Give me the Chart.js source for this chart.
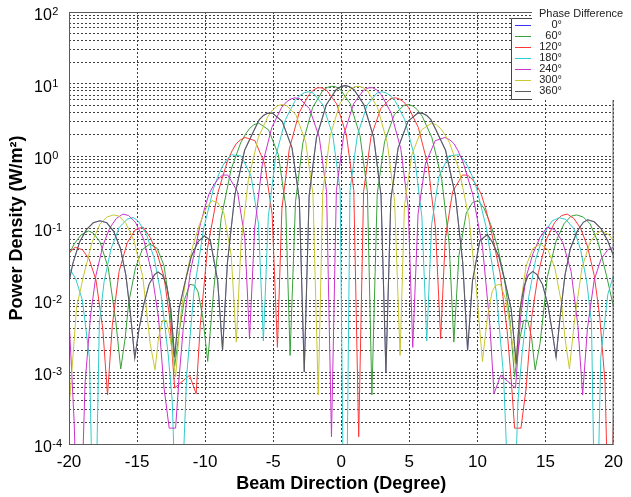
<!DOCTYPE html>
<html>
<head>
<meta charset="utf-8">
<script src="https://cdn.jsdelivr.net/npm/chart.js@4.4.1/dist/chart.umd.min.js"></script>
<style>
  html, body { margin: 0; padding: 0; background: #fff; }
  canvas { display: block; }
</style>
</head>
<body>
<canvas id="myChart" width="631" height="497"></canvas>
<script>
// legend entries and colours (MATLAB style)
const phaseLabels = ['0\u00b0', '60\u00b0', '120\u00b0', '180\u00b0', '240\u00b0', '300\u00b0', '360\u00b0'];
const lineColors = ['#3535ff', '#3aa23a', '#ff3838', '#34cccc', '#cc34cc', '#c8c834', '#5c5c5c'];
const xTicks = [-20, -15, -10, -5, 0, 5, 10, 15, 20];
const yPowers = [-4, -3, -2, -1, 0, 1, 2];

// [beam direction (degree), power density (W/m^2)]
const deg360 = [
  [-20.0, 0.018], [-19.72, 0.032], [-19.22, 0.064], [-18.72, 0.095], [-18.22, 0.118], [-17.73, 0.126],
  [-17.22, 0.118], [-16.72, 0.090], [-16.22, 0.052], [-15.82, 0.022], [-15.47, 0.006], [-15.17, 0.00155],
  [-14.87, 0.0038], [-14.52, 0.0085], [-14.12, 0.0165], [-13.72, 0.0225], [-13.46, 0.0245], [-13.12, 0.022],
  [-12.82, 0.0155], [-12.52, 0.0075], [-12.24, 0.0016], [-11.92, 0.0075], [-11.52, 0.0162], [-11.02, 0.040],
  [-10.52, 0.0645], [-10.05, 0.078], [-9.62, 0.0667], [-9.08, 0.0185], [-8.72, 0.002], [-8.36, 0.0335],
  [-7.82, 0.285], [-7.1, 1.20], [-6.38, 2.33], [-6.02, 3.20], [-5.72, 3.65], [-5.42, 3.91], [-5.06, 3.95],
  [-4.34, 3.04], [-3.62, 1.30], [-3.08, 0.248], [-2.72, 0.001], [-2.36, 0.283], [-1.82, 1.81], [-1.1, 5.15],
  [-0.38, 8.32], [-0.02, 9.23], [0.28, 9.5], [0.58, 9.23], [0.94, 8.32], [1.66, 5.15], [2.38, 1.81],
  [2.92, 0.283], [3.28, 0.001], [3.64, 0.248], [4.18, 1.30], [4.9, 3.04], [5.62, 3.95], [5.98, 3.91],
  [6.28, 3.65], [6.58, 3.20], [6.94, 2.33], [7.66, 1.20], [8.38, 0.285], [8.92, 0.0335], [9.28, 0.002],
  [9.64, 0.0185], [10.18, 0.0667], [10.73, 0.081], [11.08, 0.0645], [11.58, 0.040], [12.08, 0.0162],
  [12.48, 0.0075], [12.85, 0.0013], [13.13, 0.0075], [13.43, 0.0155], [13.73, 0.022], [14.07, 0.025],
  [14.38, 0.0225], [14.78, 0.0165], [15.18, 0.0085], [15.48, 0.0038], [15.78, 0.0016], [16.08, 0.006],
  [16.43, 0.022], [16.83, 0.052], [17.33, 0.09], [17.78, 0.12], [18.1, 0.13], [18.58, 0.122],
  [19.08, 0.098], [19.58, 0.066], [20.0, 0.041]
];
// 0 and 360 degrees give the same pattern, the blue line sits under the grey one
const deg0 = deg360;

const deg60 = [
  [-20.0, 0.043], [-19.62, 0.060], [-19.12, 0.080], [-18.58, 0.091], [-18.22, 0.085], [-17.72, 0.064],
  [-17.12, 0.028], [-16.56, 0.005], [-16.2, 0.0011], [-15.87, 0.003], [-15.62, 0.009], [-15.12, 0.028],
  [-14.62, 0.050], [-14.07, 0.060], [-13.52, 0.052], [-13.02, 0.030], [-12.62, 0.009], [-12.24, 0.0012],
  [-11.87, 0.004], [-11.52, 0.0101], [-11.12, 0.0165], [-10.78, 0.016], [-10.52, 0.013], [-10.17, 0.0057],
  [-9.81, 0.0014], [-9.36, 0.0144], [-8.82, 0.137], [-8.1, 0.646], [-7.38, 1.54], [-7.02, 2.03],
  [-6.72, 2.43], [-6.42, 2.72], [-6.06, 2.86], [-5.34, 2.31], [-4.62, 1.04], [-4.08, 0.201], [-3.76, 0.0017],
  [-3.36, 0.234], [-2.82, 1.53], [-2.1, 4.73], [-1.38, 8.00], [-1.02, 8.97], [-0.72, 9.29], [-0.42, 9.16],
  [-0.06, 8.37], [0.66, 5.32], [1.38, 1.91], [1.92, 0.318], [2.25, 0.00048], [2.64, 0.297], [3.18, 1.58],
  [3.9, 3.77], [4.62, 5.08], [4.98, 5.17], [5.28, 4.92], [5.58, 4.41], [5.94, 3.59], [6.66, 1.79],
  [7.38, 0.475], [7.92, 0.0619], [8.27, 0.0026], [8.64, 0.041], [9.18, 0.161], [9.63, 0.225], [10.05, 0.240],
  [10.48, 0.189], [10.98, 0.111], [11.48, 0.055], [11.98, 0.020], [12.38, 0.0055], [12.73, 0.00086],
  [13.13, 0.003], [13.4, 0.0052], [13.7, 0.0052], [13.98, 0.003], [14.24, 0.00107], [14.6, 0.0025],
  [15.14, 0.021], [15.78, 0.066], [16.38, 0.116], [16.88, 0.146], [17.28, 0.152], [17.78, 0.142],
  [18.28, 0.114], [18.88, 0.062], [19.48, 0.022], [20.0, 0.008]
];

const deg120 = [
  [-20.0, 0.045], [-19.55, 0.054], [-19.02, 0.050], [-18.52, 0.037], [-18.02, 0.019], [-17.52, 0.004],
  [-17.17, 0.00048], [-16.82, 0.0044], [-16.32, 0.025], [-15.72, 0.0625], [-15.12, 0.095], [-14.56, 0.103],
  [-14.02, 0.073], [-13.52, 0.044], [-13.02, 0.021], [-12.62, 0.006], [-12.24, 0.0006], [-11.15, 0.0009],
  [-10.66, 0.0005], [-10.36, 0.0044], [-9.82, 0.0532], [-9.1, 0.293], [-8.38, 0.830], [-8.02, 1.18],
  [-7.72, 1.48], [-7.42, 1.67], [-7.06, 1.81], [-6.34, 1.63], [-5.62, 0.776], [-5.08, 0.156], [-4.69, 0.0022],
  [-4.36, 0.188], [-3.82, 1.24], [-3.1, 3.97], [-2.38, 7.11], [-2.02, 8.31], [-1.72, 8.89], [-1.42, 8.81],
  [-1.06, 8.13], [-0.34, 5.29], [0.38, 1.96], [0.92, 0.330], [1.28, 0.000126], [1.64, 0.322], [2.18, 1.84],
  [2.9, 4.55], [3.62, 6.28], [3.98, 6.43], [4.28, 6.17], [4.58, 5.65], [4.94, 4.73], [5.66, 2.49],
  [6.38, 0.725], [6.92, 0.100], [7.3, 0.0029], [7.64, 0.071], [8.18, 0.320], [8.9, 0.544], [9.28, 0.543],
  [9.62, 0.476], [9.98, 0.380], [10.28, 0.295], [10.58, 0.193], [10.94, 0.107], [11.66, 0.0239],
  [12.18, 0.0038], [12.48, 0.0008], [12.73, 0.000166], [13.2, 0.000166], [13.58, 0.0006], [13.98, 0.0056],
  [14.48, 0.024], [15.08, 0.070], [15.68, 0.120], [16.18, 0.149], [16.6, 0.156], [17.08, 0.136],
  [17.58, 0.099], [18.08, 0.056], [18.58, 0.022], [18.98, 0.006], [19.38, 0.0007], [19.73, 0.000001],
  [20.0, 0.00025]
];

const deg180 = [
  [-20.0, 0.028], [-19.52, 0.020], [-19.02, 0.010], [-18.5, 0.0016], [-18.14, 0.000001], [-17.77, 0.0048],
  [-17.42, 0.018], [-16.92, 0.051], [-16.32, 0.101], [-15.72, 0.133], [-15.29, 0.140], [-14.92, 0.125],
  [-14.32, 0.083], [-13.72, 0.0366], [-13.22, 0.0113], [-12.72, 0.0018], [-12.42, 0.0004], [-11.96, 0.000001],
  [-11.36, 0.00088], [-10.82, 0.0132], [-10.1, 0.100], [-9.38, 0.357], [-9.02, 0.544], [-8.72, 0.724],
  [-8.42, 0.888], [-8.06, 1.04], [-7.34, 1.00], [-6.62, 0.523], [-6.08, 0.113], [-5.72, 0.0027],
  [-5.36, 0.143], [-4.82, 0.985], [-4.1, 3.21], [-3.38, 5.89], [-3.02, 6.97], [-2.72, 7.55], [-2.42, 7.79],
  [-2.06, 7.50], [-1.34, 5.10], [-0.62, 1.92], [-0.08, 0.332], [0.28, 0.0000001], [0.64, 0.332],
  [1.18, 1.92], [1.9, 5.10], [2.62, 7.50], [2.98, 7.79], [3.28, 7.55], [3.58, 6.97], [3.94, 5.89],
  [4.66, 3.21], [5.38, 0.985], [5.92, 0.143], [6.28, 0.0027], [6.64, 0.113], [7.18, 0.523], [7.9, 1.00],
  [8.62, 1.04], [8.98, 0.888], [9.28, 0.724], [9.58, 0.544], [9.94, 0.357], [10.66, 0.100], [11.38, 0.0132],
  [11.92, 0.00088], [12.55, 0.000001], [12.98, 0.0004], [13.28, 0.0018], [13.78, 0.0113], [14.28, 0.0366],
  [14.88, 0.083], [15.48, 0.125], [16.0, 0.139], [16.48, 0.132], [17.08, 0.098], [17.58, 0.050],
  [18.03, 0.018], [18.38, 0.0048], [18.7, 0.000001], [19.06, 0.0016], [19.58, 0.012], [20.0, 0.022]
];

const deg240 = [
  [-20.0, 0.0056], [-19.62, 0.0002], [-19.27, 0.000001], [-18.82, 0.0007], [-18.42, 0.006], [-18.02, 0.022],
  [-17.52, 0.056], [-17.02, 0.099], [-16.52, 0.136], [-16.04, 0.156], [-15.62, 0.149], [-15.12, 0.120],
  [-14.52, 0.070], [-13.92, 0.024], [-13.42, 0.0056], [-13.02, 0.0006], [-12.64, 0.000166], [-12.17, 0.000166],
  [-11.92, 0.0008], [-11.62, 0.0038], [-11.1, 0.0239], [-10.38, 0.107], [-10.02, 0.193], [-9.72, 0.295],
  [-9.42, 0.380], [-9.06, 0.476], [-8.72, 0.543], [-8.34, 0.544], [-7.62, 0.320], [-7.08, 0.071],
  [-6.74, 0.0029], [-6.36, 0.100], [-5.82, 0.725], [-5.1, 2.49], [-4.38, 4.73], [-4.02, 5.65], [-3.72, 6.17],
  [-3.42, 6.43], [-3.06, 6.28], [-2.34, 4.55], [-1.62, 1.84], [-1.08, 0.322], [-0.72, 0.000126],
  [-0.36, 0.330], [0.18, 1.96], [0.9, 5.29], [1.62, 8.13], [1.98, 8.81], [2.28, 8.89], [2.58, 8.31],
  [2.94, 7.11], [3.66, 3.97], [4.38, 1.24], [4.92, 0.188], [5.25, 0.0022], [5.64, 0.156], [6.18, 0.776],
  [6.9, 1.63], [7.62, 1.81], [7.98, 1.67], [8.28, 1.48], [8.58, 1.18], [8.94, 0.830], [9.66, 0.293],
  [10.38, 0.0532], [10.92, 0.0044], [11.22, 0.0005], [11.71, 0.0009], [12.8, 0.0006], [13.18, 0.006],
  [13.58, 0.021], [14.08, 0.044], [14.58, 0.073], [15.12, 0.103], [15.68, 0.095], [16.28, 0.0625],
  [16.88, 0.025], [17.38, 0.0044], [17.73, 0.00048], [18.08, 0.004], [18.58, 0.019], [19.08, 0.037],
  [19.58, 0.050], [20.0, 0.054]
];

const deg300 = [
  [-20.0, 0.0003], [-19.44, 0.008], [-18.92, 0.022], [-18.32, 0.062], [-17.72, 0.114], [-17.22, 0.142],
  [-16.72, 0.152], [-16.32, 0.146], [-15.82, 0.116], [-15.22, 0.066], [-14.58, 0.021], [-14.04, 0.0025],
  [-13.68, 0.00107], [-13.42, 0.003], [-13.14, 0.0052], [-12.84, 0.0052], [-12.57, 0.003], [-12.17, 0.00086],
  [-11.82, 0.0055], [-11.42, 0.020], [-10.92, 0.055], [-10.42, 0.111], [-9.92, 0.189], [-9.49, 0.240],
  [-9.07, 0.225], [-8.62, 0.161], [-8.08, 0.041], [-7.71, 0.0026], [-7.36, 0.0619], [-6.82, 0.475],
  [-6.1, 1.79], [-5.38, 3.59], [-5.02, 4.41], [-4.72, 4.92], [-4.42, 5.17], [-4.06, 5.08], [-3.34, 3.77],
  [-2.62, 1.58], [-2.08, 0.297], [-1.69, 0.00048], [-1.36, 0.318], [-0.82, 1.91], [-0.1, 5.32], [0.62, 8.37],
  [0.98, 9.16], [1.28, 9.29], [1.58, 8.97], [1.94, 8.00], [2.66, 4.73], [3.38, 1.53], [3.92, 0.234],
  [4.32, 0.0017], [4.64, 0.201], [5.18, 1.04], [5.9, 2.31], [6.62, 2.86], [6.98, 2.72], [7.28, 2.43],
  [7.58, 2.03], [7.94, 1.54], [8.66, 0.646], [9.38, 0.137], [9.92, 0.0144], [10.37, 0.0014], [10.73, 0.0057],
  [11.08, 0.013], [11.34, 0.016], [11.68, 0.0165], [12.08, 0.0101], [12.43, 0.004], [12.8, 0.0012],
  [13.18, 0.009], [13.58, 0.030], [14.08, 0.052], [14.63, 0.060], [15.18, 0.050], [15.68, 0.028],
  [16.18, 0.009], [16.43, 0.003], [16.76, 0.0011], [17.12, 0.005], [17.68, 0.028], [18.28, 0.064],
  [18.78, 0.085], [19.14, 0.091], [19.68, 0.080], [20.0, 0.066]
];

const seriesData = [deg0, deg60, deg120, deg180, deg240, deg300, deg360];

const datasets = seriesData.map((pts, i) => ({
  label: phaseLabels[i],
  data: pts.map(p => ({ x: p[0], y: p[1] })),
  borderColor: lineColors[i],
  backgroundColor: lineColors[i],
  // the 0 degree line is hidden under the 360 degree one in the original
  borderWidth: i === 0 ? 0.5 : (i === 6 ? 1.1 : 1),
  pointRadius: 0,
  tension: 0,
  fill: false,
  // later phases are drawn on top, like the original plot
  order: seriesData.length - i
}));

const FONT = '"Liberation Sans", Arial, sans-serif';

// frame, 10^n labels and the legend box
const extras = {
  id: 'extras',
  afterDraw(chart) {
    const ctx = chart.ctx;
    const a = chart.chartArea;
    const y = chart.scales.y;
    ctx.save();

    // axes box
    ctx.strokeStyle = '#5a5a5a';
    ctx.lineWidth = 1;
    ctx.strokeRect(a.left + 0.5, a.top + 0.5, a.right - a.left - 1, a.bottom - a.top);

    // y tick labels as 10 with a raised exponent
    ctx.fillStyle = '#000';
    ctx.textAlign = 'left';
    ctx.textBaseline = 'alphabetic';
    yPowers.forEach(p => {
      const py = y.getPixelForValue(Math.pow(10, p));
      ctx.font = '16px ' + FONT;
      ctx.fillText('10', 34, py + 8);
      const w = ctx.measureText('10').width;
      ctx.font = '11px ' + FONT;
      ctx.fillText(String(p), 34 + w + 0.5, py + 2.5);
    });

    // legend
    ctx.fillStyle = '#fff';
    ctx.fillRect(532, 0, 99, 100);
    ctx.fillRect(512, 19, 119, 80);
    ctx.strokeStyle = '#444';
    ctx.beginPath();
    ctx.moveTo(532, 18.5);
    ctx.lineTo(511.5, 18.5);
    ctx.lineTo(511.5, 99.5);
    ctx.lineTo(532, 99.5);
    ctx.stroke();

    ctx.fillStyle = '#222';
    ctx.font = '11px ' + FONT;
    ctx.textBaseline = 'middle';
    ctx.textAlign = 'left';
    ctx.fillText('Phase Difference', 539, 13.5);

    ctx.textAlign = 'right';
    phaseLabels.forEach((lab, i) => {
      const ry = 24.5 + i * 11.1;
      ctx.strokeStyle = lineColors[i];
      ctx.beginPath();
      ctx.moveTo(515, Math.round(ry) + 0.5);
      ctx.lineTo(531, Math.round(ry) + 0.5);
      ctx.stroke();
      ctx.fillText(lab, 562, ry);
    });
    ctx.restore();
  }
};

const ctx = document.getElementById('myChart').getContext('2d');
new Chart(ctx, {
  type: 'line',
  data: { datasets: datasets },
  options: {
    responsive: false,
    animation: false,
    parsing: false,
    layout: { autoPadding: false, padding: { left: 0, right: 15, top: 12, bottom: 0 } },
    plugins: { legend: { display: false }, tooltip: { enabled: false } },
    scales: {
      x: {
        type: 'linear',
        min: -20,
        max: 20,
        afterBuildTicks: scale => { scale.ticks = xTicks.map(v => ({ value: v })); },
        afterFit: scale => { scale.height = 53; },
        grid: { color: '#404040', lineWidth: 1, drawTicks: false },
        border: { display: false, dash: [2, 2] },
        ticks: { color: '#000', padding: 8, font: { family: FONT, size: 17 } },
        title: {
          display: true,
          text: 'Beam Direction (Degree)',
          color: '#000',
          font: { family: FONT, size: 18, weight: 'bold' },
          padding: { top: 0, bottom: 2 }
        }
      },
      y: {
        type: 'logarithmic',
        min: 1e-4,
        max: 100,
        afterBuildTicks: scale => {
          const t = [];
          yPowers.forEach(p => {
            for (let m = 1; m < 10; m++) {
              const v = m * Math.pow(10, p);
              if (v <= 100.0001) t.push({ value: v });
            }
          });
          scale.ticks = t;
        },
        afterFit: scale => { scale.width = 69; },
        grid: { color: '#404040', lineWidth: 1, drawTicks: false },
        border: { display: false, dash: [2, 2] },
        ticks: { display: false, autoSkip: false },
        title: {
          display: true,
          text: 'Power Density (W/m\u00b2)',
          color: '#000',
          font: { family: FONT, size: 18, weight: 'bold' },
          padding: { top: 6, bottom: 0 }
        }
      }
    }
  },
  plugins: [extras]
});
</script>
</body>
</html>
